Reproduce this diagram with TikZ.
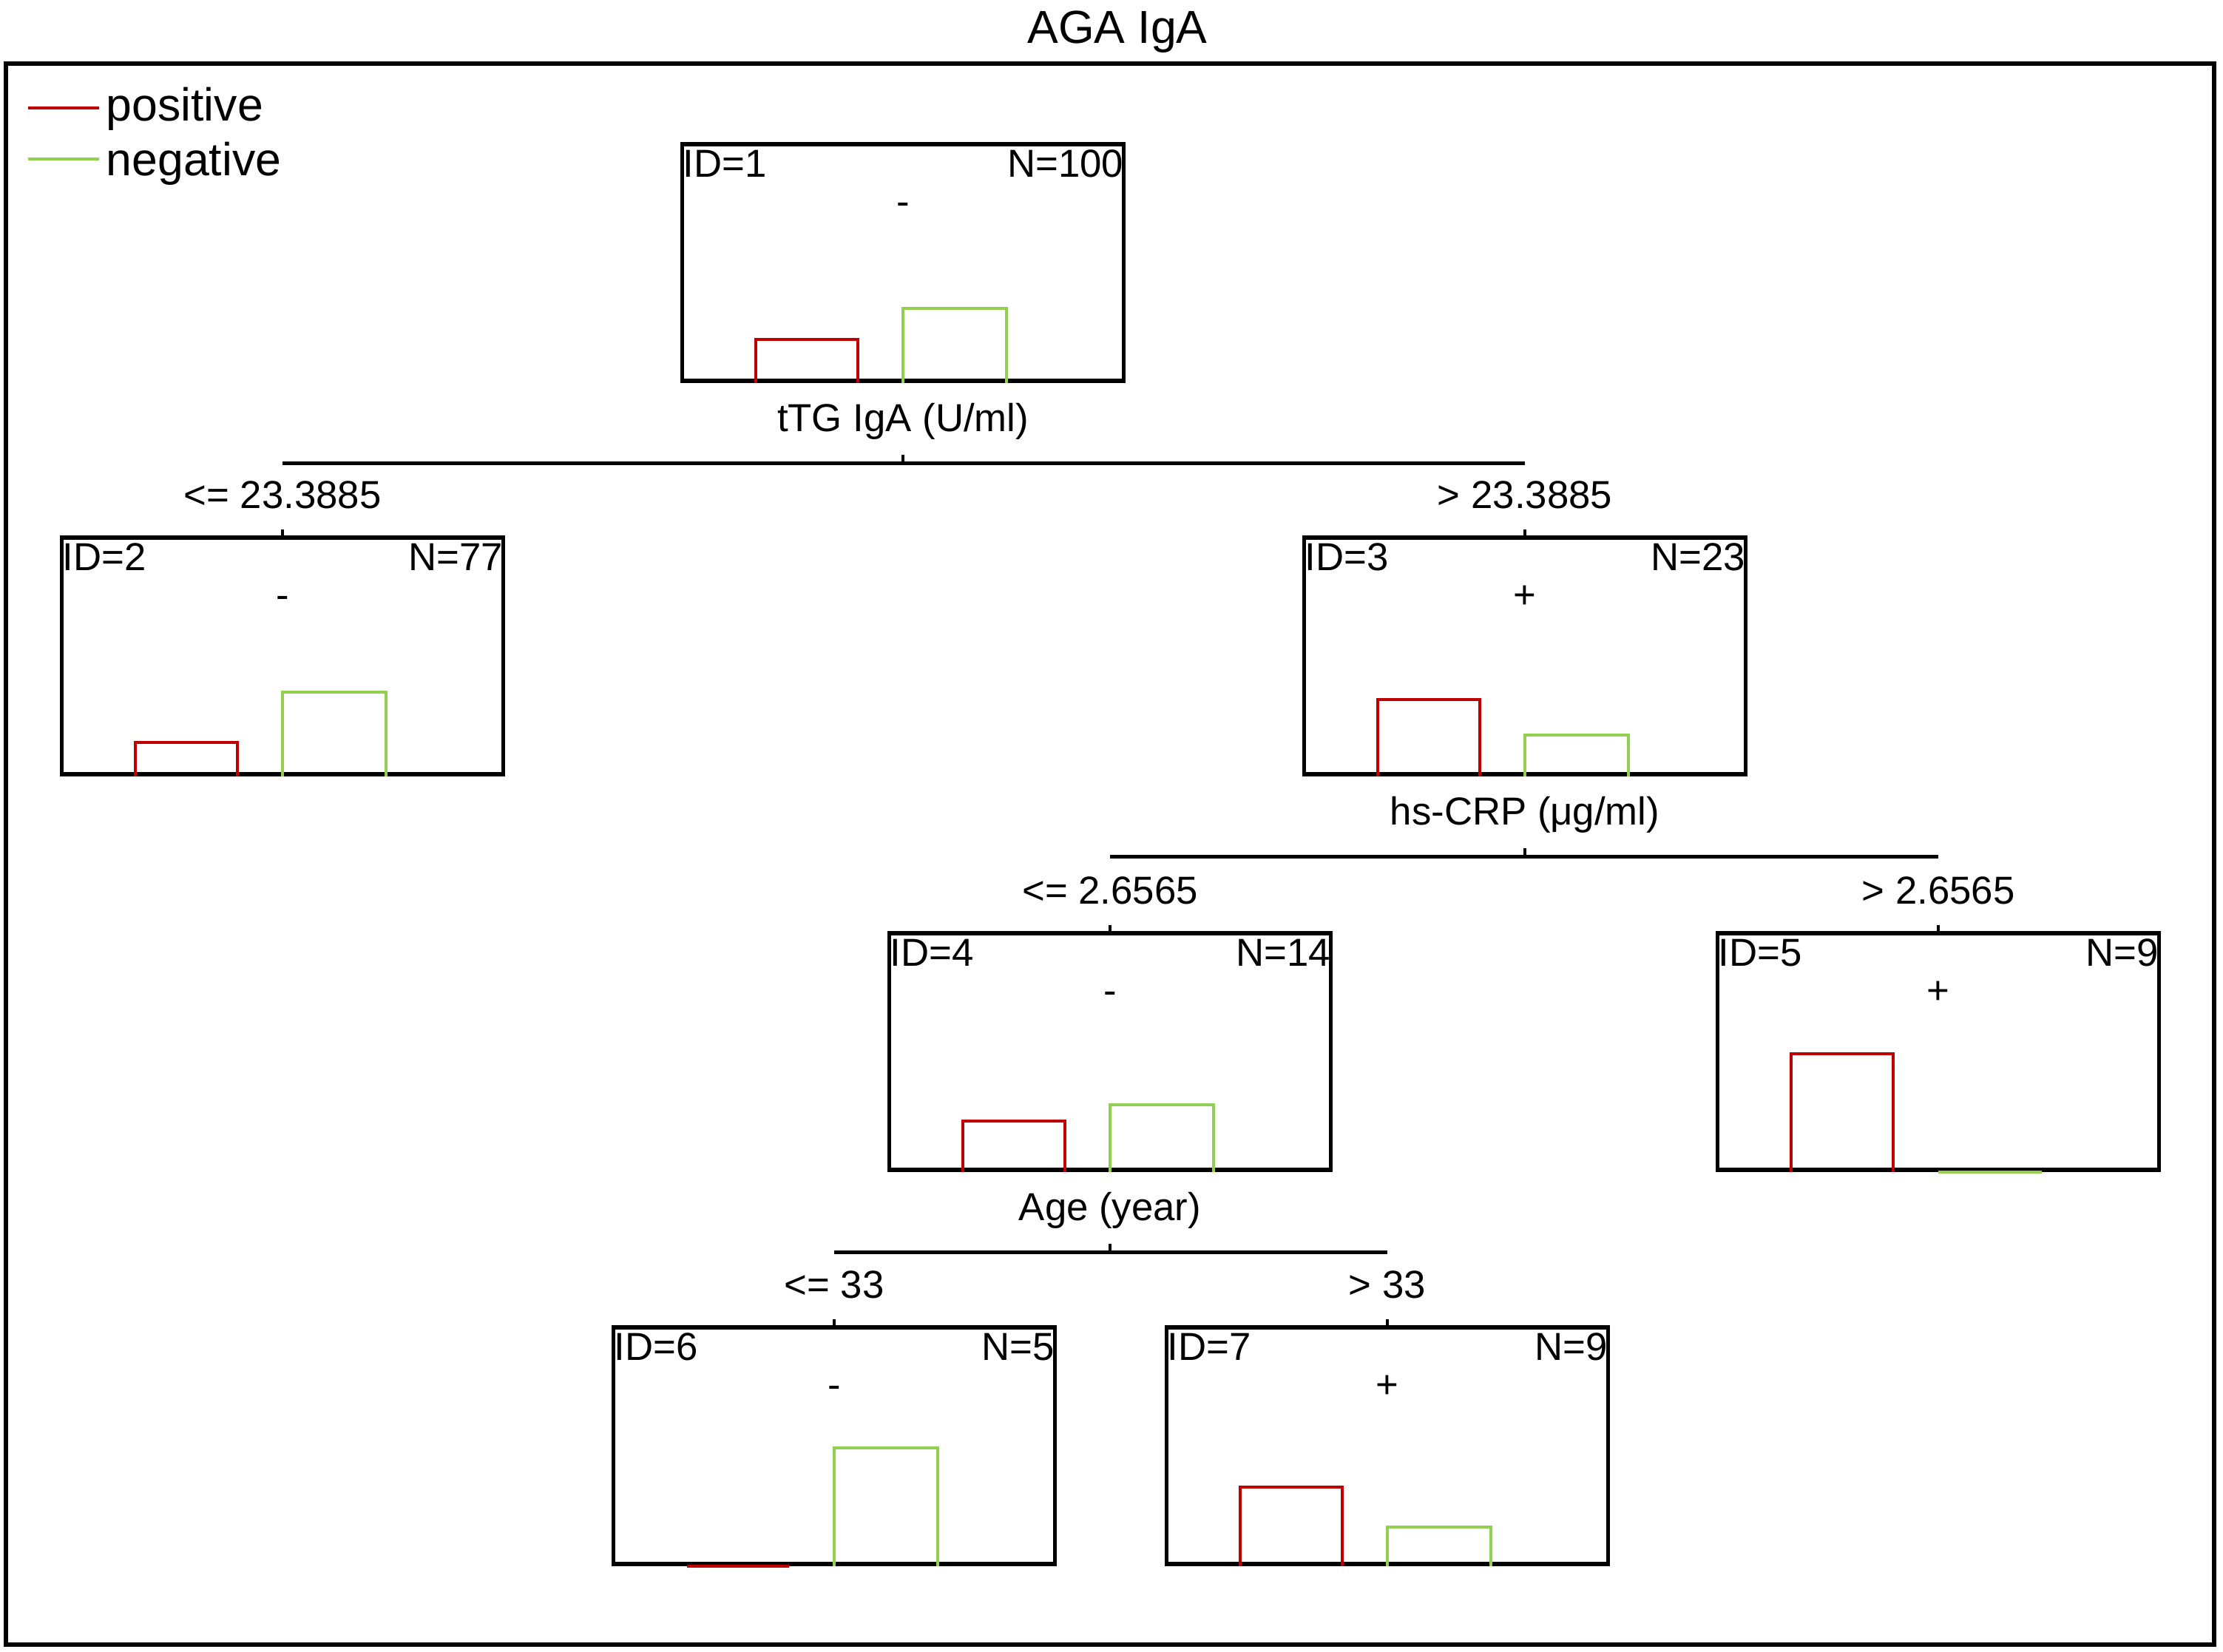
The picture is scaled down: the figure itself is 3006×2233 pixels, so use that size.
\documentclass[tikz,border=0pt]{standalone}
\usepackage{fontspec}
\setmainfont{Liberation Sans}
\usetikzlibrary{calc}
\definecolor{posred}{HTML}{C00000}
\definecolor{neggreen}{HTML}{92D050}
\newcommand\mybars[3]{%
  \draw[posbar] ([xshift=-1.99cm]#1.south) -- ++(0,-#2) -- ++(138,0) -- ++(0,#2);
  \draw[negbar] (#1.south) -- ++(0,-#3) -- ++(140,0) -- ++(0,#3);}
\newcommand\mynode[6]{% name, x, ycenter, id, n, class
  \node[box] (#1) at (#2,#3) {};
  \node[small,anchor=base west] (#1id) at ([xshift=0.03cm,yshift=-0.47cm]#1.north west) {ID=#4};
  \node[small,anchor=base east] (#1n) at ([xshift=-0.02cm,yshift=-0.47cm]#1.north east) {N=#5};
  \node[small,anchor=base] (#1c) at ([yshift=-0.98cm]#1.north) {#6};}
\begin{document}
\begin{tikzpicture}[x=0.01cm,y=-0.01cm,
  box/.style={draw,line width=1.5pt,minimum width=5.96cm,minimum height=3.2cm,inner sep=0pt},
  small/.style={font=\fontsize{15}{18}\selectfont,inner sep=0pt},
  big/.style={font=\fontsize{17.8}{21}\selectfont,inner sep=0pt},
  posbar/.style={draw=posred,line width=1.15pt},
  negbar/.style={draw=neggreen,line width=1.15pt},
  edge/.style={line width=1.4pt}]
\useasboundingbox (0,0) rectangle (3006,2233);
% title and frame
\node[big,anchor=base] (title) at (1511,58) {AGA IgA};
\draw[line width=1.7pt] (8,86) rectangle (2994,2224);
% legend
\coordinate (lp1) at (38,146); \coordinate (lp2) at (134,146);
\coordinate (ln1) at (38,215); \coordinate (ln2) at (134,215);
\draw[posred,line width=1.4pt] (lp1) -- (lp2);
\draw[neggreen,line width=1.4pt] (ln1) -- (ln2);
\node[big,anchor=base west] (lpos) at (143,163) {positive};
\node[big,anchor=base west] (lneg) at (143,237) {negative};
% nodes
\mynode{n1}{1221}{355}{1}{100}{-}
\mynode{n2}{382}{887}{2}{77}{-}
\mynode{n3}{2062}{887}{3}{23}{+}
\mynode{n4}{1501}{1422}{4}{14}{-}
\mynode{n5}{2621}{1422}{5}{9}{+}
\mynode{n6}{1128}{1955}{6}{5}{-}
\mynode{n7}{1876}{1955}{7}{9}{+}
% bars
\mybars{n1}{59}{101}
\mybars{n2}{46}{114}
\mybars{n3}{104}{56}
\mybars{n4}{69}{91}
\mybars{n5}{160}{0}
\mybars{n6}{0}{160}
\mybars{n7}{107}{53}
% split variables
\node[small,anchor=base] (v1) at ([yshift=-0.66cm]n1.south) {tTG IgA (U/ml)};
\node[small,anchor=base] (v3) at ([yshift=-0.66cm]n3.south) {hs-CRP (μg/ml)};
\node[small,anchor=base] (v4) at ([yshift=-0.66cm]n4.south) {Age (year)};
% split lines
\coordinate (s1) at ([yshift=-1.09cm]n1.south);
\coordinate (s3) at ([yshift=-1.09cm]n3.south);
\coordinate (s4) at ([yshift=-1.09cm]n4.south);
\draw[edge] (s1) -- ++(0,-12);
\draw[edge] (s3) -- ++(0,-12);
\draw[edge] (s4) -- ++(0,-12);
\draw[edge] (n2.north |- s1) -- (n3.north |- s1);
\draw[edge] (n4.north |- s3) -- (n5.north |- s3);
\draw[edge] (n6.north |- s4) -- (n7.north |- s4);
\foreach \c in {n2,n3,n4,n5,n6,n7} \draw[edge] (\c.north) -- ++(0,-8);
% split labels
\node[small,anchor=base] (c2) at ([yshift=0.37cm]n2.north) {<= 23.3885};
\node[small,anchor=base] (c3) at ([yshift=0.37cm]n3.north) {> 23.3885};
\node[small,anchor=base] (c4) at ([yshift=0.37cm]n4.north) {<= 2.6565};
\node[small,anchor=base] (c5) at ([yshift=0.37cm]n5.north) {> 2.6565};
\node[small,anchor=base] (c6) at ([yshift=0.37cm]n6.north) {<= 33};
\node[small,anchor=base] (c7) at ([yshift=0.37cm]n7.north) {> 33};
\end{tikzpicture}
\end{document}
